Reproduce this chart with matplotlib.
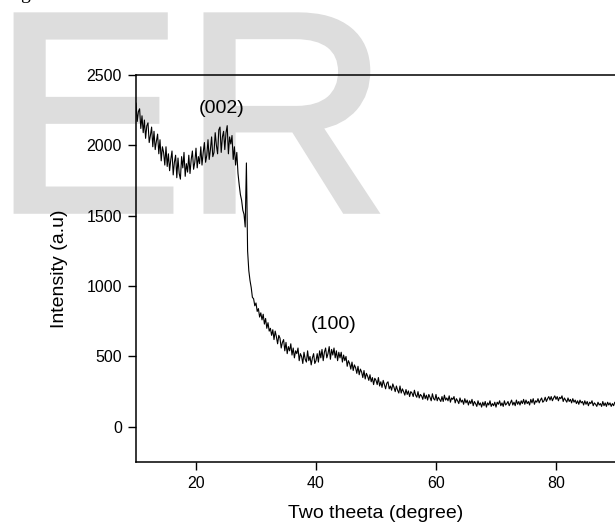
"""
XRD pattern of the carbon sample, (002) and (100) humps marked.
"""

import numpy as np
import matplotlib
matplotlib.use('Agg')
import matplotlib.pyplot as plt
import matplotlib.patheffects as pe

# intensity, 0.2 degree steps from 10 to 90 (one row per degree)
intensity = [
    2300, 2170, 2240, 2260, 2120,   # 10
    2210, 2090, 2180, 2050, 2140,
    2160, 2020, 2070, 2130, 1990,
    2100, 1970, 2030, 2080, 1940,
    2040, 1890, 1990, 1950, 1860,
    1990, 1850, 1940, 1820, 1900,   # 15
    1960, 1790, 1880, 1930, 1770,
    1910, 1800, 1760, 1920, 1840,
    1950, 1780, 1870, 1810, 1930,
    1800, 1900, 1960, 1830, 1880,
    1980, 1840, 1920, 1870, 1990,   # 20
    1860, 1950, 2020, 1880, 1930,
    2040, 1900, 1970, 2060, 1920,
    1950, 2090, 2000, 1940, 2110,
    2130, 1950, 2060, 2100, 1970,
    2090, 2140, 1940, 2060, 2010,   # 25
    2070, 1900, 1990, 1860, 1950,
    1800, 1720, 1650, 1610, 1540,
    1510, 1420, 1875, 1250, 1110,   # spike at 28.4
    1040, 990, 920, 910, 860,
    880, 820, 840, 780, 810,        # 30
    760, 800, 730, 770, 700,
    740, 680, 700, 650, 690,
    620, 680, 640, 590, 650,
    630, 560, 600, 620, 540,
    600, 520, 570, 540, 590,        # 35
    510, 560, 490, 540, 520,
    560, 470, 520, 500, 450,
    530, 480, 460, 540, 470,
    500, 440, 490, 520, 450,
    470, 520, 460, 540, 490,        # 40
    550, 470, 530, 560, 490,
    520, 570, 480, 550, 510,
    560, 490, 540, 470, 530,
    490, 530, 460, 510, 470,
    500, 430, 470, 450, 410,        # 45
    460, 400, 440, 420, 380,
    430, 370, 410, 390, 350,
    400, 340, 380, 360, 330,
    370, 320, 350, 300, 345,
    330, 300, 350, 290, 320,        # 50
    280, 330, 300, 270, 310,
    320, 270, 290, 260, 305,
    280, 250, 290, 260, 240,
    290, 240, 270, 250, 225,
    265, 230, 255, 215, 250,        # 55
    240, 215, 260, 225, 210,
    250, 205, 230, 220, 195,
    240, 200, 225, 190, 230,
    210, 185, 235, 200, 190,
    230, 185, 210, 195, 180,        # 60
    215, 180, 225, 190, 205,
    185, 220, 175, 205, 195,
    215, 170, 200, 185, 165,
    205, 175, 190, 160, 200,
    170, 190, 155, 185, 165,        # 65
    195, 150, 180, 165, 145,
    185, 155, 170, 140, 175,
    150, 180, 140, 170, 155,
    185, 145, 165, 150, 175,
    140, 175, 160, 185, 150,        # 70
    170, 145, 185, 155, 165,
    180, 150, 170, 190, 155,
    175, 150, 190, 160, 180,
    155, 185, 165, 195, 160,
    190, 165, 180, 155, 195,        # 75
    170, 200, 160, 185, 175,
    200, 170, 190, 205, 175,
    185, 210, 180, 200, 215,
    190, 215, 185, 205, 220,
    195, 215, 185, 210, 200,        # 80
    220, 180, 205, 190, 175,
    205, 180, 195, 170, 200,
    175, 190, 165, 185, 160,
    190, 170, 180, 155, 185,
    160, 180, 150, 175, 165,        # 85
    185, 150, 170, 160, 145,
    175, 155, 165, 145, 180,
    150, 170, 145, 175, 155,
    170, 145, 165, 150, 175,
    160,                            # 90
]
two_theta = np.linspace(10, 90, len(intensity))

peak_labels = ['(002)', '(100)']
peak_pos = [24.3, 43.0]
peak_label_y = [2265, 730]

x_ticks = [20, 40, 60, 80]
y_ticks = [0, 500, 1000, 1500, 2000, 2500]

plt.rcParams['font.family'] = ['Liberation Sans', 'DejaVu Sans']

fig = plt.figure(figsize=(6.15, 5.23), dpi=100)

# big grey "ER" stamp sitting behind the plot - stroked a bit to get the heavier stems
fig.text(-7 / 615, 1 - 211 / 523, 'ER', fontsize=205, color='#dddddd',
         ha='left', va='baseline', zorder=-5,
         path_effects=[pe.withStroke(linewidth=4, foreground='#dddddd',
                                     joinstyle='miter')])
# leftover of the caption above, only its tail shows
fig.text(20 / 615, 1 + 1 / 523, 'g', fontsize=14, family='Liberation Serif',
         ha='left', va='baseline', color='black')

ax = fig.add_axes([136 / 615, 1 - 462 / 523, 480 / 615, 387 / 523])
ax.set_facecolor('none')

ax.plot(two_theta, intensity, color='black', lw=0.8)

for lab, xp, yp in zip(peak_labels, peak_pos, peak_label_y):
    ax.text(xp, yp, lab, fontsize=14, ha='center', va='center')

ax.set_xlim(10, 90)
ax.set_ylim(-250, 2500)
ax.set_xticks(x_ticks)
ax.set_yticks(y_ticks)
ax.tick_params(direction='out', length=5.5, width=1, labelsize=11.5, pad=4.5)

for side in ['left', 'bottom', 'top', 'right']:
    ax.spines[side].set_linewidth(1.1)

ax.set_xlabel('Two theeta (degree)', fontsize=14)
ax.set_ylabel('Intensity (a.u)', fontsize=14)
ax.xaxis.set_label_coords(0.5, (462 - 505) / 387)
ax.yaxis.set_label_coords((68 - 136) / 480, 0.5)

fig.savefig('out.png', dpi=100)
